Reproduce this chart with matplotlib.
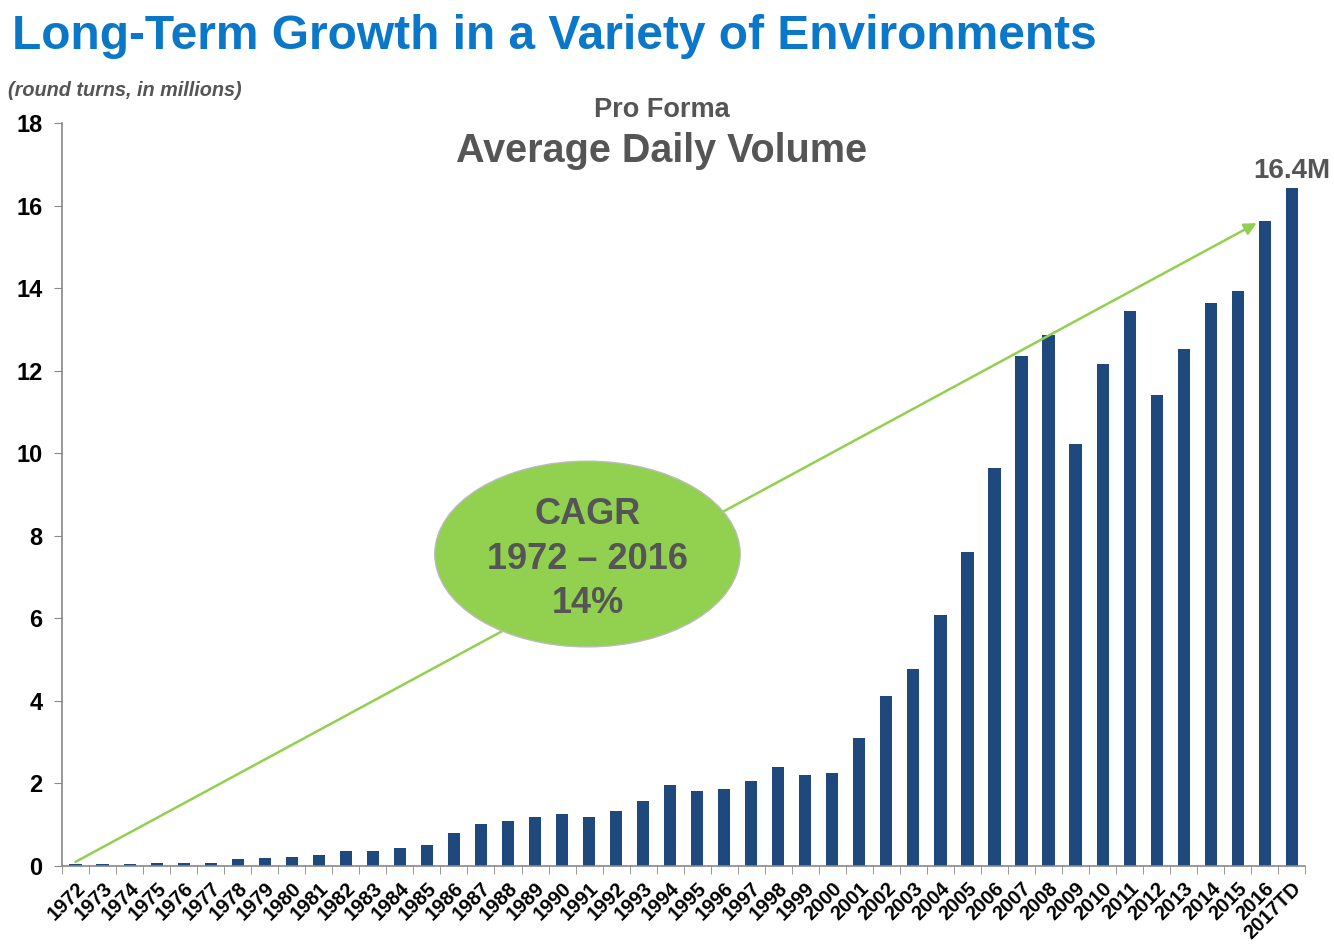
import matplotlib.pyplot as plt
from matplotlib.patches import Ellipse

plt.rcParams["font.family"] = ["Liberation Sans", "DejaVu Sans"]

years = [str(y) for y in range(1972, 2017)] + ["2017TD"]
adv = [
    0.05, 0.05, 0.05, 0.08, 0.08, 0.08, 0.16, 0.20, 0.23, 0.26,
    0.37, 0.37, 0.44, 0.51, 0.80, 1.02, 1.08, 1.19, 1.26, 1.19,
    1.33, 1.58, 1.97, 1.82, 1.86, 2.07, 2.39, 2.21, 2.25, 3.10,
    4.12, 4.77, 6.09, 7.62, 9.64, 12.37, 12.88, 10.23, 12.16, 13.44,
    11.42, 12.52, 13.65, 13.94, 15.63, 16.42,
]
last_label = "16.4M"
cagr_text = "CAGR\n1972 – 2016\n14%"

BLUE = "#1f497d"
GREEN = "#92d050"
GRAY = "#555555"

fig = plt.figure(figsize=(13.34, 9.48), dpi=100)
ax = fig.add_axes([0.0465, 0.0865, 0.932, 0.7835])

x = list(range(len(years)))
ax.bar(x, adv, width=0.45, color=BLUE, zorder=2)

ax.set_xlim(-0.5, len(years) - 0.5)
ax.set_ylim(0, 18)
ax.set_yticks(range(0, 19, 2))
ax.tick_params(axis="y", labelsize=17, length=6, color="#888888", pad=8)
for lbl in ax.get_yticklabels():
    lbl.set_fontweight("bold")

# year labels at bar centres, tick marks between bars
ax.set_xticks(x)
ax.set_xticklabels(years, rotation=45, ha="right", rotation_mode="anchor",
                   fontsize=14.5, fontweight="bold")
ax.tick_params(axis="x", which="major", length=0, pad=9)
ax.set_xticks([i - 0.5 for i in range(len(years) + 1)], minor=True)
ax.tick_params(axis="x", which="minor", length=6, color="#888888")

for side in ["top", "right"]:
    ax.spines[side].set_visible(False)
for side in ["left", "bottom"]:
    ax.spines[side].set_color("#888888")
    ax.spines[side].set_linewidth(1.2)

# growth arrow from 1972 to 2016
ax.annotate("", xy=(43.7, 15.58), xytext=(0, 0.1),
            arrowprops=dict(arrowstyle="-|>", color=GREEN, lw=1.8,
                            mutation_scale=18, shrinkA=0, shrinkB=0),
            zorder=3)

ell = Ellipse((18.94, 7.56), 11.3, 4.5, facecolor=GREEN,
              edgecolor="#bbbbbb", lw=1, zorder=4)
ax.add_patch(ell)
ax.text(18.94, 7.43, cagr_text, ha="center", va="center", fontsize=26,
        fontweight="bold", color=GRAY, linespacing=1.35, zorder=5)

ax.annotate(last_label, xy=(x[-1], adv[-1]), xytext=(0, 3),
            textcoords="offset points", ha="center", va="bottom",
            fontsize=20, fontweight="bold", color=GRAY)

fig.text(0.009, 0.962, "Long-Term Growth in a Variety of Environments",
         ha="left", va="center", fontsize=34.5, fontweight="bold", color="#0a77c8")
fig.text(0.006, 0.905, "(round turns, in millions)", ha="left", va="center",
         fontsize=14.3, fontweight="bold", style="italic", color=GRAY)
fig.text(0.496, 0.884, "Pro Forma", ha="center", va="center",
         fontsize=19.5, fontweight="bold", color=GRAY)
fig.text(0.496, 0.841, "Average Daily Volume", ha="center", va="center",
         fontsize=28.5, fontweight="bold", color=GRAY)

fig.savefig("out.png", dpi=100)
